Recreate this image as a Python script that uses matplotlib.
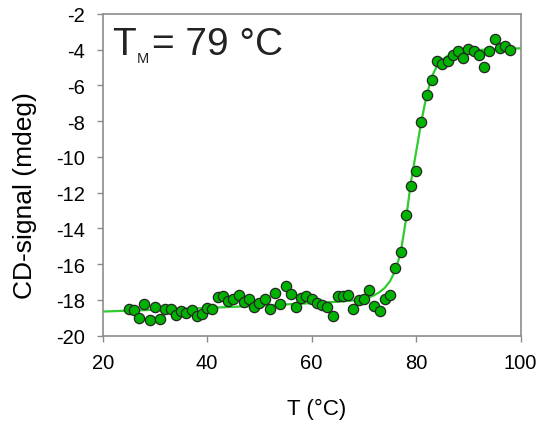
import numpy as np
import matplotlib
matplotlib.use("Agg")
import matplotlib.pyplot as plt

plt.rcParams['font.family'] = ['Liberation Sans', 'DejaVu Sans']
plt.rcParams['axes.unicode_minus'] = False

# measured points
temp = list(range(25, 99))
cd = [-18.53, -18.55, -19.03, -18.21, -19.12, -18.42, -19.05, -18.53, -18.51, -18.86,
      -18.64, -18.71, -18.58, -18.92, -18.77, -18.43, -18.53, -17.86, -17.80, -18.04,
      -17.95, -17.71, -18.12, -17.93, -18.40, -18.15, -17.93, -18.49, -17.60, -18.25,
      -17.24, -17.69, -18.38, -17.89, -17.80, -17.97, -18.17, -18.30, -18.38, -18.92,
      -17.76, -17.80, -17.71, -18.49, -18.03, -17.93, -17.47, -18.32, -18.62, -17.93,
      -17.74, -16.20, -15.29, -13.27, -11.63, -10.78, -8.02, -6.53, -5.67, -4.61,
      -4.78, -4.63, -4.29, -4.05, -4.48, -3.96, -4.05, -4.27, -4.96, -4.05,
      -3.40, -3.88, -3.80, -4.03]

# fitted curve
fit_t = [20, 30, 40, 50, 60, 65, 68, 70, 71, 72, 73, 74, 75, 76, 77, 78, 79, 80,
         81, 82, 83, 84, 85, 86, 87, 88, 90, 95, 100]
fit_cd = [-18.65, -18.55, -18.45, -18.32, -18.18, -18.1, -18.03, -17.93, -17.85,
          -17.73, -17.56, -17.32, -16.95, -16.35, -15.4, -13.6, -11.4, -9.7,
          -8.0, -6.55, -5.5, -4.9, -4.55, -4.35, -4.2, -4.12, -4.05, -3.97, -3.92]

fig = plt.figure(figsize=(5.39, 4.27), dpi=100)
ax = fig.add_axes([0.1905, 0.2115, 0.7755, 0.7534])

ax.plot(fit_t, fit_cd, color='#2ecc2e', lw=1.6, zorder=2)
ax.plot(temp, cd, 'o', ms=7.4, mfc='#00b300', mec='#262626', mew=0.9, zorder=3)

ax.set_xlim(20, 100)
ax.set_ylim(-20, -2)
ax.set_xticks(range(20, 101, 20))
ax.set_yticks(range(-20, -1, 2))
for s in ax.spines.values():
    s.set_color('#8c8c8c')
    s.set_linewidth(1.2)
ax.tick_params(direction='out', length=4, width=1, color='#8c8c8c', labelsize=14.5,
               pad=8.5)
ax.set_xlabel('T (°C)', fontsize=16, va='center')
ax.xaxis.set_label_coords(0.513, -0.225)
ax.set_ylabel('CD-signal (mdeg)', fontsize=19, va='center')
ax.yaxis.set_label_coords(-0.186, 0.438)

# T_M label built from pieces (small subscript)
fig.text(112 / 539, 1 - 55 / 427, 'T', fontsize=28, va='baseline', ha='left',
         color='#222222')
fig.text(137 / 539, 1 - 63 / 427, 'M', fontsize=10.5, va='baseline', ha='left',
         color='#222222')
fig.text(152 / 539, 1 - 55 / 427, '= 79 °C', fontsize=28, va='baseline', ha='left',
         color='#222222')

fig.savefig('out.png', dpi=100)
